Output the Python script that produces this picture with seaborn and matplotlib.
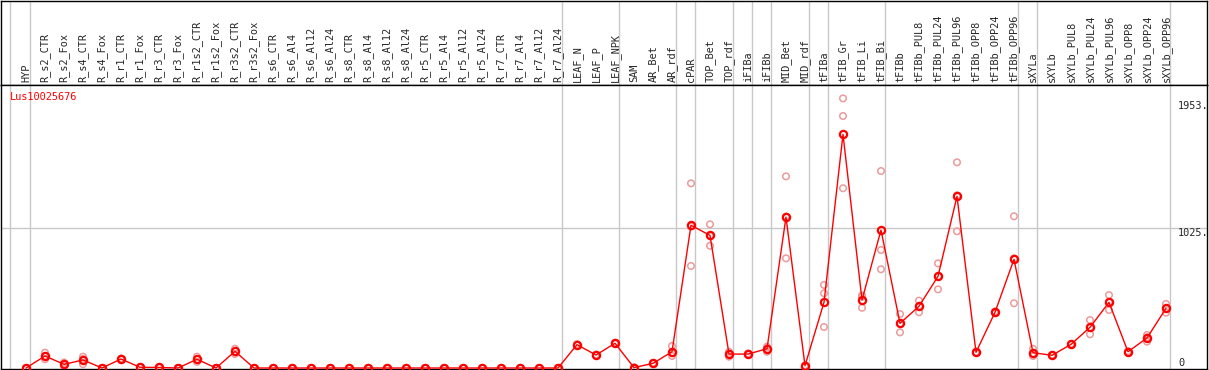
import numpy as np
import pandas as pd
import matplotlib
matplotlib.use('Agg')
import matplotlib.pyplot as plt
import seaborn as sns

# sample names (one column each)
samples = ['HYP', 'R_s2_CTR', 'R_s2_Fox', 'R_s4_CTR', 'R_s4_Fox', 'R_r1_CTR', 'R_r1_Fox',
           'R_r3_CTR', 'R_r3_Fox', 'R_r1s2_CTR', 'R_r1s2_Fox', 'R_r3s2_CTR', 'R_r3s2_Fox',
           'R_s6_CTR', 'R_s6_Al4', 'R_s6_Al12', 'R_s6_Al24', 'R_s8_CTR', 'R_s8_Al4', 'R_s8_Al12',
           'R_s8_Al24', 'R_r5_CTR', 'R_r5_Al4', 'R_r5_Al12', 'R_r5_Al24', 'R_r7_CTR', 'R_r7_Al4',
           'R_r7_Al12', 'R_r7_Al24', 'LEAF_N', 'LEAF_P', 'LEAF_NPK', 'SAM', 'AR_Bet', 'AR_rdf',
           'cPAR', 'TOP_Bet', 'TOP_rdf', 'iFIBa', 'iFIBb', 'MID_Bet', 'MID_rdf', 'tFIBa',
           'tFIB_Gr', 'tFIB_Li', 'tFIB_Bi', 'tFIBb', 'tFIBb_PUL8', 'tFIBb_PUL24', 'tFIBb_PUL96',
           'tFIBb_OPP8', 'tFIBb_OPP24', 'tFIBb_OPP96', 'sXYLa', 'sXYLb', 'sXYLb_PUL8',
           'sXYLb_PUL24', 'sXYLb_PUL96', 'sXYLb_OPP8', 'sXYLb_OPP24', 'sXYLb_OPP96']

# number of samples in each tissue group (separator lines between groups)
group_sizes = [1, 28, 3, 3, 1, 2, 1, 1, 2, 1, 3, 7, 1, 7]

# mean expression
mean_vals = [0, 88, 27, 59, 0, 66, 5, 4, 0, 64, 0, 122, 0,
             0, 0, 0, 0, 0, 0, 0, 0, 0, 0, 0, 0, 0, 0, 0, 0,
             171, 95, 181, 3, 34, 119,
             1045, 971, 102, 102, 141, 1105, 17, 481,
             1711, 498, 1010, 327, 452, 671, 1257, 115, 408, 796,
             112, 93, 173, 298, 481, 119, 220, 437]

# replicates
rep1 = [0, 112, 40, 83, 0, 70, 7, 6, 0, 83, 0, 141, 0,
        0, 0, 0, 0, 0, 0, 0, 0, 0, 0, 0, 0, 0, 0, 0, 0,
        175, 98, 185, 0, 37, 161,
        1352, 1052, 119, 106, 156, 1403, 20, 608,
        1974, 531, 1442, 395, 493, 766, 1506, 118, 414, 1111,
        141, 96, 176, 351, 534, 123, 242, 469]
rep2 = [0, 88, 27, 66, 0, 66, 5, 4, 0, 64, 0, 122, 0,
        0, 0, 0, 0, 0, 0, 0, 0, 0, 0, 0, 0, 0, 0, 0, 0,
        171, 95, 181, 4, 34, 108,
        1036, 966, 104, 102, 148, 1109, 17, 547,
        1845, 522, 864, 325, 455, 671, 1264, 115, 408, 803,
        107, 93, 173, 296, 484, 119, 225, 437]
rep3 = [0, 64, 15, 28, 0, 62, 3, 2, 0, 45, 0, 103, 0,
        0, 0, 0, 0, 0, 0, 0, 0, 0, 0, 0, 0, 0, 0, 0, 0,
        167, 92, 177, 5, 31, 88,
        747, 895, 83, 98, 119, 803, 14, 300,
        1316, 441, 723, 261, 408, 576, 1001, 112, 402, 474,
        88, 90, 170, 247, 425, 115, 193, 405]

gene_id = 'Lus10025676'
y_ticks = [1953, 1025, 0]
y_tick_labels = ['1953.', '1025.', '0']

pos = np.arange(len(samples))
df_mean = pd.DataFrame({'pos': pos, 'value': mean_vals})
df_rep = pd.DataFrame({
    'pos': np.tile(pos, 3),
    'value': rep1 + rep2 + rep3,
})

sns.set_style('white')
plt.rcParams['font.family'] = ['DejaVu Sans Mono', 'DejaVu Sans']

W, H = 1209, 370
fig = plt.figure(figsize=(W / 100, H / 100), dpi=100)
ax_top = fig.add_axes([1 / W, (H - 85) / H, 1206 / W, 84 / H])
ax = fig.add_axes([1 / W, 1 / H, 1206 / W, 284 / H])

xlim = ((1 - 26) / 19, (1207 - 26) / 19)
for a in (ax, ax_top):
    a.set_xlim(*xlim)
    a.set_xticks([])
    a.set_yticks([])
    a.set_xlabel('')
    a.set_ylabel('')
    for sp in a.spines.values():
        sp.set_color('black')
        sp.set_linewidth(1)

ax_top.set_ylim(0, 1)
ax.set_ylim(-7.3, 2072)

# group separator lines
bounds = [-0.84] + list(np.cumsum(group_sizes) - 1 + 0.23)
for b in bounds:
    ax.axvline(b, color='#c8c8c8', lw=1.0, zorder=0)
    ax_top.axvline(b, color='#c8c8c8', lw=1.0, zorder=0)
ax.axhline(1025, color='#c8c8c8', lw=1.0, zorder=0)

# sample labels
for i, name in enumerate(samples):
    ax_top.text(i, 0.04, name, rotation=90, ha='center', va='bottom',
                fontsize=7.4, transform=ax_top.get_xaxis_transform())

# replicates and mean profile
sns.scatterplot(data=df_rep, x='pos', y='value', ax=ax, marker='o', s=22,
                facecolor='none', edgecolor='#ec9a9a', linewidth=1.1, zorder=2)
sns.lineplot(data=df_mean, x='pos', y='value', ax=ax, color='red', lw=1,
             marker='o', markersize=5.2, markerfacecolor='none',
             markeredgecolor='red', markeredgewidth=1.6, zorder=3)
ax.set_xlabel('')
ax.set_ylabel('')

# value labels on the right
for v, lab in zip(y_ticks, y_tick_labels):
    ax.text((1178 - 26) / 19, v, lab, ha='left',
            va='bottom' if v == 0 else 'top', fontsize=7.4)

ax.text(9 / 1206, 0.956, gene_id, color='red', ha='left', va='center',
        fontsize=7.4, transform=ax.transAxes)

fig.savefig('out.png', dpi=100)
